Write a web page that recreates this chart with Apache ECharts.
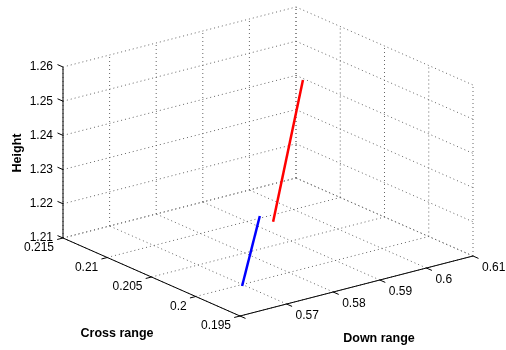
<!DOCTYPE html>
<html>
<head>
<meta charset="utf-8">
<script src="https://cdn.jsdelivr.net/npm/echarts@6/dist/echarts.min.js"></script>
<style>
  html, body { margin: 0; padding: 0; background: #fff; }
  #chart { width: 506px; height: 350px; }
</style>
</head>
<body>
<div id="chart"></div>
<script>
const downTicks = [0.56, 0.57, 0.58, 0.59, 0.60, 0.61];
const downLabels = ['', '0.57', '0.58', '0.59', '0.6', '0.61'];
const crossTicks = [0.195, 0.2, 0.205, 0.21, 0.215];
const crossLabels = ['0.195', '0.2', '0.205', '0.21', '0.215'];
const heightTicks = [1.21, 1.22, 1.23, 1.24, 1.25, 1.26];
const heightLabels = ['1.21', '1.22', '1.23', '1.24', '1.25', '1.26'];

const redDown = [0.5823, 0.5887];
const redCross = [0.203, 0.203];
const redHeight = [1.2206, 1.2598];
const blueDown = [0.569, 0.5728];
const blueCross = [0.1995, 0.1995];
const blueHeight = [1.2105, 1.2296];

// view: screen position of the front-bottom corner and the three box edges
const origin = [240, 316];
const downVec = [233, -60];
const crossVec = [-177, -78];
const heightVec = [0, -171];
const tickLen = 6;

const dMin = downTicks[0], dMax = downTicks[downTicks.length - 1];
const cMin = crossTicks[0], cMax = crossTicks[crossTicks.length - 1];
const hMin = heightTicks[0], hMax = heightTicks[heightTicks.length - 1];

function project(d, c, h) {
  const u = (d - dMin) / (dMax - dMin);
  const v = (c - cMin) / (cMax - cMin);
  const w = (h - hMin) / (hMax - hMin);
  return [
    origin[0] + u * downVec[0] + v * crossVec[0] + w * heightVec[0],
    origin[1] + u * downVec[1] + v * crossVec[1] + w * heightVec[1]
  ];
}

function unit(v, sign) {
  const l = Math.hypot(v[0], v[1]);
  return [sign * v[0] / l, sign * v[1] / l];
}

const font = '12px "Liberation Sans", Arial, sans-serif';
const titleFont = 'bold 12.5px "Liberation Sans", Arial, sans-serif';
const gridStyle = { stroke: '#666', lineWidth: 1, lineDash: [1, 3] };
const axisStyle = { stroke: '#000', lineWidth: 1 };

const graphics = [];
function seg(a, b, style) {
  graphics.push({ type: 'line', silent: true, z: 0, shape: { x1: a[0], y1: a[1], x2: b[0], y2: b[1] }, style });
}
function label(p, text, align, fontStr, rotation) {
  graphics.push({
    type: 'text', silent: true, z: 1, x: p[0], y: p[1], rotation: rotation || 0,
    style: { text, font: fontStr || font, fill: '#000', align, verticalAlign: 'middle' }
  });
}

// back walls and floor grid
heightTicks.forEach(h => {
  seg(project(dMin, cMax, h), project(dMax, cMax, h), gridStyle);
  seg(project(dMax, cMax, h), project(dMax, cMin, h), gridStyle);
});
downTicks.forEach(d => {
  seg(project(d, cMax, hMin), project(d, cMax, hMax), gridStyle);
  seg(project(d, cMin, hMin), project(d, cMax, hMin), gridStyle);
});
crossTicks.forEach(c => {
  seg(project(dMax, c, hMin), project(dMax, c, hMax), gridStyle);
  seg(project(dMin, c, hMin), project(dMax, c, hMin), gridStyle);
});

// axes
seg(project(dMin, cMax, hMin), project(dMin, cMax, hMax), axisStyle);
seg(project(dMin, cMin, hMin), project(dMin, cMax, hMin), axisStyle);
seg(project(dMin, cMin, hMin), project(dMax, cMin, hMin), axisStyle);

// ticks and tick labels
const zOut = unit(crossVec, 1);
heightTicks.forEach((h, i) => {
  const p = project(dMin, cMax, h);
  seg(p, [p[0] + zOut[0] * tickLen, p[1] + zOut[1] * tickLen], axisStyle);
  label([p[0] - 10, p[1]], heightLabels[i], 'right');
});
const cOut = unit(downVec, -1);
crossTicks.forEach((c, i) => {
  const p = project(dMin, c, hMin);
  seg(p, [p[0] + cOut[0] * tickLen, p[1] + cOut[1] * tickLen], axisStyle);
  label([p[0] - 9, p[1] + 10], crossLabels[i], 'right');
});
const dOut = unit(crossVec, -1);
downTicks.forEach((d, i) => {
  const p = project(d, cMin, hMin);
  seg(p, [p[0] + dOut[0] * tickLen, p[1] + dOut[1] * tickLen], axisStyle);
  if (downLabels[i]) label([p[0] + 9, p[1] + 12], downLabels[i], 'left');
});

// axis titles
label([18, 153], 'Height', 'center', titleFont, Math.PI / 2);
label([117, 334], 'Cross range', 'center', titleFont);
label([379, 339], 'Down range', 'center', titleFont);

function segments(ds, cs, hs) {
  const out = [];
  for (let i = 1; i < ds.length; i++) {
    out.push([ds[i - 1], cs[i - 1], hs[i - 1], ds[i], cs[i], hs[i]]);
  }
  return out;
}

function lineSeries(name, color, ds, cs, hs) {
  return {
    name,
    type: 'custom',
    coordinateSystem: 'none',
    z: 10,
    silent: true,
    data: segments(ds, cs, hs),
    renderItem: (params, api) => {
      const a = project(api.value(0), api.value(1), api.value(2));
      const b = project(api.value(3), api.value(4), api.value(5));
      return {
        type: 'line',
        shape: { x1: a[0], y1: a[1], x2: b[0], y2: b[1] },
        style: { stroke: color, lineWidth: 2.5, lineCap: 'butt' }
      };
    }
  };
}

const chart = echarts.init(document.getElementById('chart'), null, { renderer: 'canvas' });
chart.setOption({
  animation: false,
  backgroundColor: '#fff',
  graphic: graphics,
  series: [
    lineSeries('red', '#ff0000', redDown, redCross, redHeight),
    lineSeries('blue', '#0000ff', blueDown, blueCross, blueHeight)
  ]
});
</script>
</body>
</html>
